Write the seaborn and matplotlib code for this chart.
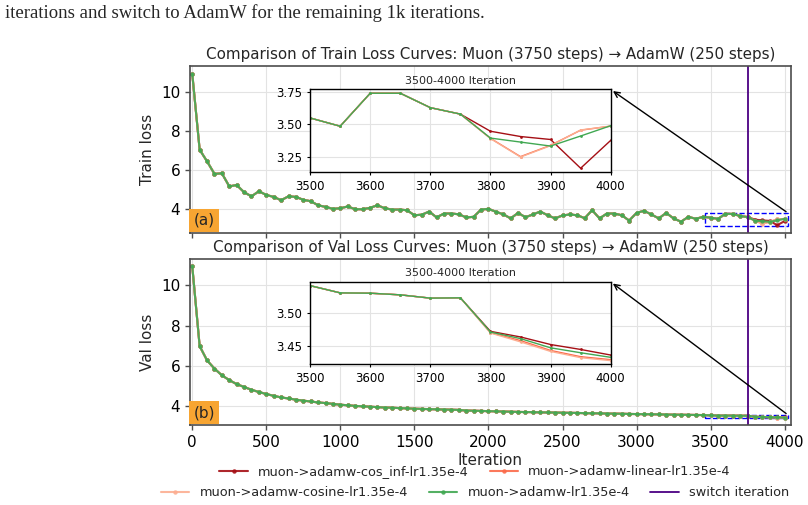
import matplotlib
matplotlib.use("Agg")
import matplotlib.pyplot as plt
import matplotlib.patches as patches
import seaborn as sns

# ---- data ----
steps = list(range(0, 4001, 50))
switch_step = 3750

train_shared = [10.92, 7.03, 6.43, 5.79, 5.82, 5.15, 5.22, 4.85, 4.64, 4.90,
                4.71, 4.61, 4.44, 4.64, 4.61, 4.46, 4.39, 4.18, 4.10, 4.00,
                4.03, 4.12, 3.98, 3.98, 4.05, 4.18, 4.03, 3.96, 3.96, 3.93,
                3.67, 3.70, 3.86, 3.56, 3.76, 3.76, 3.72, 3.56, 3.59, 3.96,
                4.00, 3.85, 3.72, 3.51, 3.79, 3.57, 3.71, 3.86, 3.67, 3.51,
                3.66, 3.71, 3.67, 3.52, 3.93, 3.51, 3.76, 3.76, 3.67, 3.40,
                3.79, 3.90, 3.71, 3.51, 3.79, 3.51, 3.34, 3.59, 3.49, 3.59,
                3.55, 3.486, 3.742, 3.742, 3.63, 3.58]
train_cos_inf = [3.447, 3.406, 3.383, 3.160, 3.376]
train_linear = [3.392, 3.250, 3.338, 3.455, 3.487]
train_cosine = [3.390, 3.247, 3.335, 3.457, 3.486]
train_plain = [3.394, 3.363, 3.332, 3.410, 3.490]

val_shared = [10.95, 6.98, 6.27, 5.86, 5.53, 5.29, 5.09, 4.95, 4.81, 4.70,
              4.60, 4.51, 4.43, 4.38, 4.32, 4.27, 4.23, 4.18, 4.15, 4.11,
              4.07, 4.04, 4.01, 3.99, 3.97, 3.95, 3.93, 3.92, 3.90, 3.89,
              3.87, 3.86, 3.85, 3.84, 3.83, 3.82, 3.81, 3.78, 3.77, 3.76,
              3.75, 3.74, 3.73, 3.72, 3.71, 3.705, 3.70, 3.69, 3.685, 3.68,
              3.67, 3.665, 3.66, 3.65, 3.645, 3.64, 3.63, 3.625, 3.62, 3.61,
              3.605, 3.60, 3.595, 3.59, 3.58, 3.575, 3.57, 3.565, 3.56, 3.555,
              3.5415, 3.5305, 3.530, 3.5275, 3.5225, 3.523]
val_cos_inf = [3.472, 3.4635, 3.452, 3.4445, 3.436]
val_linear = [3.470, 3.458, 3.443, 3.4335, 3.429]
val_cosine = [3.4695, 3.456, 3.4415, 3.432, 3.4275]
val_plain = [3.471, 3.461, 3.447, 3.4395, 3.4325]

labels = ["muon->adamw-cos_inf-lr1.35e-4", "muon->adamw-linear-lr1.35e-4",
          "muon->adamw-cosine-lr1.35e-4", "muon->adamw-lr1.35e-4"]
colors = ["#a50f15", "#fb6a4a", "#fcae91", "#41a852"]

train_runs = [train_shared + b for b in (train_cos_inf, train_linear, train_cosine, train_plain)]
val_runs = [val_shared + b for b in (val_cos_inf, val_linear, val_cosine, val_plain)]

# ---- style ----
sns.set_style("whitegrid", {
    "axes.edgecolor": "0.3",
    "grid.color": "0.89",
    "xtick.bottom": True,
    "ytick.left": True,
})
plt.rcParams["font.family"] = ["DejaVu Sans"]
plt.rcParams["axes.linewidth"] = 1.2
plt.rcParams["xtick.color"] = "0.3"
plt.rcParams["ytick.color"] = "0.3"
plt.rcParams["xtick.labelcolor"] = "black"
plt.rcParams["ytick.labelcolor"] = "black"

fig = plt.figure(figsize=(8.08, 5.05), dpi=100)
ax_train = fig.add_axes([0.235, 0.539, 0.744, 0.330])
ax_val = fig.add_axes([0.235, 0.158, 0.744, 0.330])

fig.text(0.006, 0.975, "iterations and switch to AdamW for the remaining 1k iterations.",
         family="Liberation Serif", fontsize=13.5, va="center", ha="left")


def draw_panel(ax, runs, title, ylabel, tag, show_xlabels):
    for y, lab, col in zip(runs, labels, colors):
        sns.lineplot(x=steps, y=y, ax=ax, color=col, label=lab, linewidth=1.5,
                     marker="o", markersize=3.2, markeredgewidth=0, alpha=0.9,
                     legend=False)
    ax.axvline(switch_step, color="indigo", linewidth=1.3, label="switch iteration")
    ax.set_xlim(-16, 4043)
    ax.set_xticks(range(0, 4001, 500))
    ax.set_title(title, fontsize=10.9, pad=5)
    ax.set_ylabel(ylabel, fontsize=11)
    ax.tick_params(labelsize=11, length=3.5, width=1)
    if show_xlabels:
        ax.set_xlabel("Iteration", fontsize=11, labelpad=2)
    else:
        ax.tick_params(labelbottom=False)

    ax.text(0.006, 0.03, tag, transform=ax.transAxes, fontsize=11,
            va="bottom", ha="left",
            bbox=dict(facecolor="#f7a532", edgecolor="none", pad=3))

    # zoomed inset of the last 500 iterations
    ins = ax.inset_axes([0.2, 0.365, 0.5, 0.495])
    cut = steps.index(3500)
    for y, col in zip(runs, colors):
        sns.lineplot(x=steps[cut:], y=y[cut:], ax=ins, color=col, linewidth=1.0,
                     marker="o", markersize=2, markeredgewidth=0, legend=False)
    ins.set_xlim(3500, 4000)
    ins.set_facecolor("white")
    for s in ins.spines.values():
        s.set_edgecolor("black")
        s.set_linewidth(1.0)
    ins.tick_params(labelsize=8.5, length=2, color="black")
    ins.set_title("3500-4000 Iteration", fontsize=8, pad=4)
    ins.set_xlabel("")
    y0, y1 = ins.get_ylim()

    rect = patches.Rectangle((3465, y0), 560, y1 - y0, fill=False,
                             edgecolor="blue", linestyle="--", linewidth=1.0)
    ax.add_patch(rect)
    ax.annotate("", xy=(0.7, 0.86), xycoords="axes fraction",
                xytext=(4025, y1), textcoords="data",
                arrowprops=dict(arrowstyle="->", color="black", lw=1.0))


draw_panel(ax_train, train_runs,
           "Comparison of Train Loss Curves: Muon (3750 steps) \u2192 AdamW (250 steps)",
           "Train loss", "(a)", False)
draw_panel(ax_val, val_runs,
           "Comparison of Val Loss Curves: Muon (3750 steps) \u2192 AdamW (250 steps)",
           "Val loss", "(b)", True)

handles, labs = ax_train.get_legend_handles_labels()
lookup = dict(zip(labs, handles))
row1 = [labels[0], labels[1]]
row2 = [labels[2], labels[3], "switch iteration"]
fig.legend([lookup[k] for k in row1], row1, ncol=2, loc="center",
           bbox_to_anchor=(0.588, 0.066), frameon=False, fontsize=9.3,
           handlelength=2.2, columnspacing=1.6, borderpad=0.1)
fig.legend([lookup[k] for k in row2], row2, ncol=3, loc="center",
           bbox_to_anchor=(0.588, 0.024), frameon=False, fontsize=9.3,
           handlelength=2.2, columnspacing=1.6, borderpad=0.1)

fig.savefig("out.png", dpi=100)
